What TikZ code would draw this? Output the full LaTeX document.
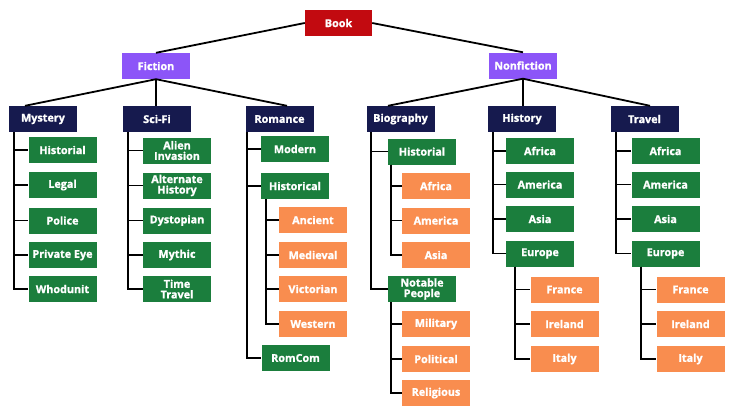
\documentclass[tikz,border=0pt]{standalone}
\usepackage{fontspec}
\setmainfont{Open Sans}[BoldFeatures={FakeBold=1.2}]
\definecolor{bookred}{HTML}{C20A10}
\definecolor{fpurple}{HTML}{8C55F8}
\definecolor{navy}{HTML}{161A4E}
\definecolor{gbox}{HTML}{1B7E3D}
\definecolor{obox}{HTML}{F98D4F}
\tikzset{
  box/.style={rectangle, minimum width=68pt, minimum height=26pt, inner sep=1pt,
    text=white, font=\fontsize{10.8}{10.6}\selectfont\bfseries, align=center},
  rbox/.style={box, fill=bookred, minimum width=67pt},
  pbox/.style={box, fill=fpurple},
  nbox/.style={box, fill=navy},
  gnode/.style={box, fill=gbox},
  onode/.style={box, fill=obox},
  conn/.style={draw=black, line width=1.8pt},
}
\newcommand\elb[3]{\draw[conn] ([xshift=#3pt]#1.south west) |- (#2.west);}
\begin{document}
\begin{tikzpicture}[x=1pt,y=-1pt]
\useasboundingbox[fill=white] (0,0) rectangle (730,410);
% level 0/1
\node[rbox] (book) at (338.5,23) {Book};
\node[pbox] (fic) at (156,66) {Fiction};
\node[pbox] (nonfic) at (523,65.5) {Nonfiction};
% level 2
\node[nbox] (mys) at (43,119) {Mystery};
\node[nbox] (sci) at (157,119) {Sci-Fi};
\node[nbox] (rom) at (279.5,119) {Romance};
\node[nbox] (bio) at (400.5,119) {Biography};
\node[nbox] (his) at (522,119) {History};
\node[nbox] (tra) at (644.5,119) {Travel};
% mystery
\node[gnode] (m1) at (62.5,150) {Historial};
\node[gnode] (m2) at (62.5,185) {Legal};
\node[gnode] (m3) at (62.5,220.5) {Police};
\node[gnode] (m4) at (62.5,255) {Private Eye};
\node[gnode] (m5) at (62.5,289) {Whodunit};
% sci-fi
\node[gnode] (s1) at (177,150.5) {Alien\\Invasion};
\node[gnode] (s2) at (177,185.5) {Alternate\\History};
\node[gnode] (s3) at (177,220.5) {Dystopian};
\node[gnode] (s4) at (177,255) {Mythic};
\node[gnode] (s5) at (177,289) {Time\\Travel};
% romance
\node[gnode] (r1) at (295,149) {Modern};
\node[gnode] (r2) at (295,186) {Historical};
\node[onode] (r21) at (313,220) {Ancient};
\node[onode] (r22) at (313,255) {Medieval};
\node[onode] (r23) at (313,289) {Victorian};
\node[onode] (r24) at (313,324) {Western};
\node[gnode] (r3) at (295.5,358) {RomCom};
% biography
\node[gnode] (b1) at (422,151.5) {Historial};
\node[onode] (b11) at (436,186) {Africa};
\node[onode] (b12) at (436,220.5) {America};
\node[onode] (b13) at (436,255) {Asia};
\node[gnode] (b2) at (422,289) {Notable\\People};
\node[onode] (b21) at (436,324) {Military};
\node[onode] (b22) at (436,359) {Political};
\node[onode] (b23) at (436,393) {Religious};
% history
\node[gnode] (h1) at (540,151) {Africa};
\node[gnode] (h2) at (540,184.5) {America};
\node[gnode] (h3) at (540,219) {Asia};
\node[gnode] (h4) at (540,253.5) {Europe};
\node[onode] (h41) at (564.5,289.5) {France};
\node[onode] (h42) at (564.5,324) {Ireland};
\node[onode] (h43) at (564.5,359) {Italy};
% travel
\node[gnode] (t1) at (665.5,151) {Africa};
\node[gnode] (t2) at (665.5,184.5) {America};
\node[gnode] (t3) at (665.5,219) {Asia};
\node[gnode] (t4) at (665.5,253.5) {Europe};
\node[onode] (t41) at (690.5,289.5) {France};
\node[onode] (t42) at (690.5,324) {Ireland};
\node[onode] (t43) at (690.5,359) {Italy};
% top connectors
\draw[conn] (book.west) -- (fic.north);
\draw[conn] (book.east) -- (nonfic.north);
\draw[conn] (fic.south) -- ([xshift=-18pt]mys.north);
\draw[conn] (fic.south) -- (fic.south |- sci.north);
\draw[conn] (fic.south) -- ([xshift=7.5pt]rom.north);
\draw[conn] (nonfic.south) -- ([xshift=-12.5pt]bio.north);
\draw[conn] (nonfic.south) -- (nonfic.south |- his.north);
\draw[conn] (nonfic.south) -- ([xshift=5.5pt]tra.north);
% elbows
\foreach \c in {m1,m2,m3,m4,m5} {\elb{mys}{\c}{5}}
\foreach \c in {s1,s2,s3,s4,s5} {\elb{sci}{\c}{5}}
\foreach \c in {r1,r2,r3} {\elb{rom}{\c}{2}}
\foreach \c in {r21,r22,r23,r24} {\elb{r2}{\c}{5}}
\foreach \c in {b1,b2} {\elb{bio}{\c}{5}}
\foreach \c in {b11,b12,b13} {\elb{b1}{\c}{3}}
\foreach \c in {b21,b22,b23} {\elb{b2}{\c}{3}}
\foreach \c in {h1,h2,h3,h4} {\elb{his}{\c}{5}}
\foreach \c in {h41,h42,h43} {\elb{h4}{\c}{9}}
\foreach \c in {t1,t2,t3,t4} {\elb{tra}{\c}{6}}
\foreach \c in {t41,t42,t43} {\elb{t4}{\c}{10}}
\end{tikzpicture}
\end{document}
